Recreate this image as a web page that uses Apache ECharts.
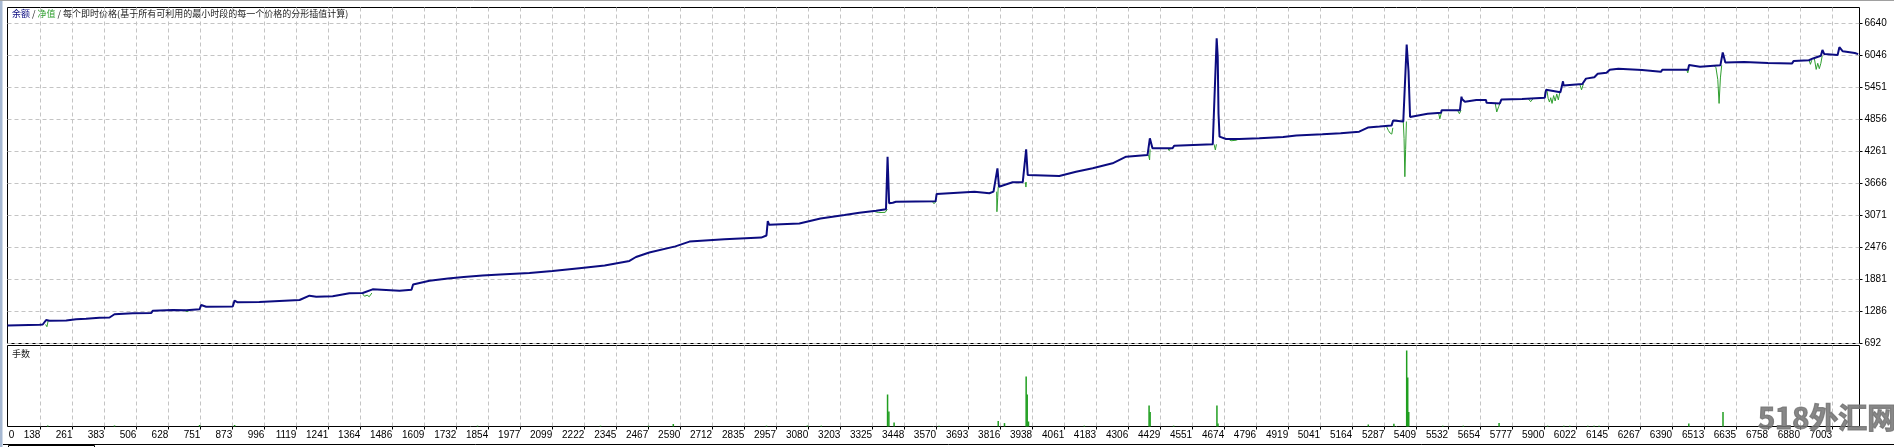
<!DOCTYPE html>
<html>
<head>
<meta charset="utf-8">
<script src="https://cdn.jsdelivr.net/npm/echarts@6/dist/echarts.min.js"></script>
<style>html,body{margin:0;padding:0;background:#fff;}#c{width:1894px;height:447px;}</style>
</head>
<body>
<div id="c"></div>
<script>
// ---------- data ----------
const X_TICKS = [138,261,383,506,628,751,873,996,1119,1241,1364,1486,1609,1732,1854,1977,2099,2222,2345,2467,2590,2712,2835,2957,3080,3203,3325,3448,3570,3693,3816,3938,4061,4183,4306,4429,4551,4674,4796,4919,5041,5164,5287,5409,5532,5654,5777,5900,6022,6145,6267,6390,6513,6635,6758,6880,7003];
const Y_TICKS = [692,1286,1881,2476,3071,3666,4261,4856,5451,6046,6640];
const FIRST_LABEL = '0';

// balance: [trade number, balance]
const BALANCE = [
 [12,1025],[135,1041],[147,1045],[160,1129],[173,1116],[237,1120],[243,1142],[275,1142],[313,1153],[364,1172],[403,1175],[409,1209],[422,1235],[492,1253],[563,1260],[569,1302],[645,1315],[697,1310],[748,1328],[754,1408],[760,1380],[773,1376],[875,1380],[882,1488],[894,1458],[977,1465],[1131,1501],[1169,1581],[1195,1562],[1258,1570],[1322,1625],[1373,1630],[1411,1699],[1514,1674],
 [1560,1690],[1566,1790],[1629,1860],[1700,1900],[1760,1930],[1832,1958],[1900,1975],[2012,2003],[2100,2040],[2203,2092],[2300,2140],[2395,2226],[2420,2300],[2471,2384],[2571,2497],[2625,2586],[2759,2631],[2900,2660],[2920,2700],[2925,2969],[2930,2900],[3046,2923],[3127,3014],[3219,3080],[3276,3123],
 [3340,3160],[3378,3186],[3384,4164],[3388,4164],[3390,3298],[3404,3309],[3416,3328],[3568,3335],[3572,3471],[3717,3514],[3774,3484],[3790,3514],[3805,3948],[3808,3948],[3811,3606],[3863,3688],[3902,3690],[3915,4301],[3918,4301],[3921,3824],[4042,3805],[4106,3885],[4170,3948],[4246,4041],[4298,4164],[4380,4195],[4389,4506],[4392,4506],[4399,4320],[4476,4320],[4482,4368],[4630,4394],[4645,6364],[4649,6022],[4652,4970],[4656,4536],[4681,4493],[4732,4493],[4808,4506],
 [4900,4530],[4950,4560],[5050,4580],[5120,4600],[5191,4629],
 [5224,4705],[5269,4723],[5315,4742],[5321,4837],[5360,4818],[5373,6249],[5377,6249],[5380,5755],[5383,5755],[5386,4902],[5453,4963],[5505,4983],[5507,5026],[5577,5026],[5583,5281],[5585,5236],[5596,5186],[5640,5218],[5677,5218],[5679,5166],[5730,5154],[5736,5228],[5815,5236],[5902,5260],[5907,5407],[5962,5363],[5972,5565],[5974,5489],[5981,5489],[6046,5515],[6060,5615],[6092,5641],[6105,5705],[6139,5723],[6151,5781],[6184,5799],[6275,5775],[6347,5742],[6353,5781],[6451,5781],[6455,5868],[6497,5837],[6575,5862],[6584,6102],[6587,6102],[6594,5913],[6666,5926],[6757,5907],[6849,5894],[6856,5944],[6914,5957],[6930,5990],[6960,6039],[6966,6147],[6969,6147],[6973,6071],[7024,6052],[7031,6199],[7034,6199],[7044,6123],[7090,6091],[7103,6071]
];

// equity: where it leaves the balance line
const EQUITY_DIPS = [
 [[158,1045],[163,1004],[168,1116]],
 [[690,1312],[700,1283],[712,1315]],
 [[1370,1630],[1380,1570],[1390,1590],[1398,1562],[1408,1630]],
 [[3330,3150],[3350,3125],[3375,3130],[3383,3186]],
 [[3555,3335],[3562,3290],[3570,3335]],
 [[3802,3514],[3803,3141],[3806,3400],[3808,3606]],
 [[3912,3690],[3914,3600],[3916,3690]],
 [[4384,4195],[4388,4103],[4390,4300]],
 [[4458,4320],[4463,4276],[4468,4320]],
 [[4635,4394],[4640,4289],[4644,4394]],
 [[4690,4493],[4700,4460],[4720,4470],[4730,4493]],
 [[5296,4723],[5303,4650],[5310,4600],[5316,4584],[5320,4700]],
 [[5360,4818],[5363,4500],[5366,3792],[5369,4300],[5372,4818]],
 [[5495,4983],[5500,4868],[5506,4983]],
 [[5568,5026],[5575,4963],[5581,5026]],
 [[5712,5166],[5718,4995],[5726,5100],[5730,5154]],
 [[5840,5236],[5848,5186],[5856,5236]],
 [[5910,5407],[5915,5250],[5920,5180],[5925,5260],[5930,5154],[5936,5300],[5942,5200],[5948,5330],[5954,5220],[5960,5363]],
 [[6036,5515],[6043,5407],[6050,5515]],
 [[6446,5781],[6450,5723],[6453,5781]],
 [[6550,5862],[6558,5818],[6565,5597],[6570,5154],[6575,5628],[6580,5862]],
 [[6915,5957],[6920,5881],[6925,5957]],
 [[6935,5990],[6942,5786],[6948,5900],[6954,5800],[6960,5900],[6965,6039]]
];

// lots: [trade number, lots]
const LOTS = [[166,0.1],[422,0.1],[748,0.15],[882,0.15],[1813,0.08],[2284,0.08],[2468,0.08],[2563,0.25],[2920,0.08],[3077,0.1],[3130,0.08],[3384,3.2],[3389,1.5],[3409,0.4],[3581,0.08],[3808,0.54],[3832,0.34],[3915,5.0],[3919,3.2],[3924,0.5],[4138,0.08],[4386,2.1],[4390,1.45],[4480,0.08],[4646,2.1],[4650,0.3],[5226,0.2],[5324,0.27],[5373,7.6],[5377,4.9],[5381,1.45],[5511,0.08],[5590,0.08],[5727,0.34],[5913,0.08],[5975,0.08],[5998,0.08],[6067,0.08],[6091,0.08],[6110,0.08],[6454,0.3],[6585,1.45]];

// ---------- layout / style ----------
const X_MIN = 12, X_MAX = 7108;
const Y_MIN = 692, Y_MAX = 6937;
const LOTS_MAX = 8.1;
const FIRST_LABEL_POS = 38;
const numFont = "'Liberation Sans Narrow','Liberation Sans',Arial,sans-serif";
const cjkFont = "'Noto Sans CJK SC',sans-serif";
const gridLine = {show:true, lineStyle:{color:'#c4c4c4', type:[4,3], width:1}};

const option = {
  animation:false,
  backgroundColor:'#fff',
  grid:[
    {left:7.5, top:7.5, width:1852, height:336, show:true, borderColor:'#000', borderWidth:1, backgroundColor:'transparent'},
    {left:7.5, top:345.5, width:1852, height:81, show:true, borderColor:'#000', borderWidth:1, backgroundColor:'transparent'}
  ],
  xAxis:[
    {gridIndex:0, type:'value', min:X_MIN, max:X_MAX, axisLine:{show:false},
     axisTick:{show:false, customValues:X_TICKS}, axisLabel:{show:false, customValues:X_TICKS}, splitLine:gridLine},
    {gridIndex:1, type:'value', min:X_MIN, max:X_MAX, axisLine:{show:false},
     axisTick:{show:true, length:3, lineStyle:{color:'#000'}, customValues:X_TICKS},
     axisLabel:{show:true, customValues:[FIRST_LABEL_POS].concat(X_TICKS), align:'right', margin:4,
       fontSize:10, fontFamily:numFont, color:'#000',
       formatter:(v)=> v===FIRST_LABEL_POS ? FIRST_LABEL : String(v)},
     splitLine:gridLine}
  ],
  yAxis:[
    {gridIndex:0, type:'value', position:'right', min:Y_MIN, max:Y_MAX, axisLine:{show:false},
     axisTick:{show:true, length:3, lineStyle:{color:'#000'}, customValues:Y_TICKS},
     axisLabel:{show:true, customValues:Y_TICKS, margin:5, fontSize:10, fontFamily:numFont, color:'#000',
       formatter:(v)=>String(v)},
     splitLine:gridLine},
    {gridIndex:1, type:'value', min:0, max:LOTS_MAX, show:false, splitLine:{show:false}}
  ],
  series:[
    {type:'lines', coordinateSystem:'cartesian2d', xAxisIndex:0, yAxisIndex:0, polyline:true, silent:true,
     lineStyle:{color:'#2e9e2e', width:1, opacity:1},
     data:EQUITY_DIPS.map(seg=>({coords:seg})), z:1},
    {type:'line', xAxisIndex:0, yAxisIndex:0, data:BALANCE, showSymbol:false, symbol:'none',
     lineStyle:{color:'#0c0c80', width:2}, z:3},
    {type:'bar', xAxisIndex:1, yAxisIndex:1, data:LOTS, barWidth:1.5, itemStyle:{color:'#1f9e1f'}}
  ],
  graphic:[
    {type:'rect', shape:{x:0, y:0, width:2.5, height:447}, style:{fill:'#a6b8d2'}, silent:true},
    {type:'line', shape:{x1:0, y1:0.5, x2:1894, y2:0.5}, style:{stroke:'#a0a0a0', lineWidth:1}, silent:true},
    {type:'line', shape:{x1:3, y1:444.5, x2:1894, y2:444.5}, style:{stroke:'#000', lineWidth:1}, silent:true},
    {type:'rect', shape:{x:8.5, y:445.5, width:86, height:4}, style:{fill:'none', stroke:'#000', lineWidth:1}, silent:true},
    {type:'text', x:12, y:9,
     style:{text:'{a|余额}{s| / }{b|净值}{s| / 每个即时价格(基于所有可利用的最小时段的每一个价格的分形插值计算)}',
       rich:{a:{fill:'#0c0c80', fontSize:9, fontFamily:cjkFont},
             b:{fill:'#2e9e2e', fontSize:9, fontFamily:cjkFont},
             s:{fill:'#222', fontSize:9, fontFamily:cjkFont}},
       fontSize:9, fontFamily:cjkFont}, silent:true},
    {type:'text', x:12, y:349, style:{text:'手数', fill:'#222', fontSize:9, fontFamily:cjkFont}, silent:true},
    {type:'text', x:1758, y:403, z:100,
     style:{text:'518外汇网', fill:'rgba(115,115,115,0.85)', stroke:'rgba(115,115,115,0.85)', lineWidth:1.2,
       fontSize:29, fontWeight:'bold', fontFamily:cjkFont}, silent:true}
  ]
};
const chart = echarts.init(document.getElementById('c'), null, {renderer:'canvas'});
chart.setOption(option);
</script>
</body>
</html>
